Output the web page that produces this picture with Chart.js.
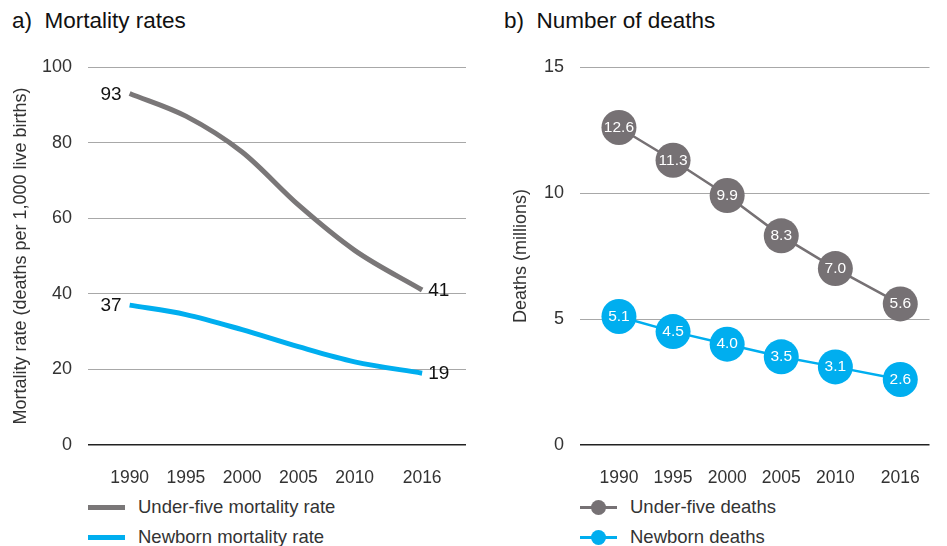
<!DOCTYPE html>
<html>
<head>
<meta charset="utf-8">
<script src="https://cdn.jsdelivr.net/npm/chart.js@4.4.1/dist/chart.umd.min.js"></script>
<style>
  body { margin: 0; background: #fff; font-family: "Liberation Sans", Arial, sans-serif; }
  #wrap { position: relative; width: 947px; height: 546px; overflow: hidden; }
  .title { position: absolute; top: 8px; font-size: 22.5px; color: #111; white-space: pre; }
  .box { position: absolute; top: 0; height: 490px; }
  .legend { position: absolute; font-size: 18.5px; color: #333; }
  .legend div { position: relative; height: 30px; line-height: 30px; padding-left: 50px; }
  .legend .swatch { position: absolute; left: 0; top: 13px; width: 37px; height: 5px; }
  .legend .thin { top: 14px; height: 3px; }
  .legend .dot { position: absolute; left: 11px; top: 8px; width: 15px; height: 15px; border-radius: 50%; }
</style>
</head>
<body>
<div id="wrap">
  <div class="title" style="left:12px">a)  Mortality rates</div>
  <div class="title" style="left:504px">b)  Number of deaths</div>
  <div class="box" style="left:0;width:475px"><canvas id="rates"></canvas></div>
  <div class="box" style="left:490px;width:457px"><canvas id="deaths"></canvas></div>
  <div class="legend" style="left:88px;top:492px">
    <div><span class="swatch" style="background:#7a7778"></span>Under-five mortality rate</div>
    <div><span class="swatch" style="background:#00aeef"></span>Newborn mortality rate</div>
  </div>
  <div class="legend" style="left:580px;top:492px">
    <div><span class="swatch thin" style="background:#767174"></span><span class="dot" style="background:#767174"></span>Under-five deaths</div>
    <div><span class="swatch thin" style="background:#00aeef"></span><span class="dot" style="background:#00aeef"></span>Newborn deaths</div>
  </div>
</div>
<script>
const years = [1990, 1995, 2000, 2005, 2010, 2016];
const underFiveRate = [93, 87, 77.5, 63.5, 51.5, 41];
const newbornRate = [37, 34.5, 30.5, 26, 22, 19];
const underFiveDeaths = [12.6, 11.3, 9.9, 8.3, 7.0, 5.6];
const newbornDeaths = [5.1, 4.5, 4.0, 3.5, 3.1, 2.6];

const GRAY = '#7a7778', DOT_GRAY = '#767174', BLUE = '#00aeef';
const FONT = '"Liberation Sans", Arial, sans-serif';

function pts(vals) {
  return vals.map((v, i) => ({ x: years[i], y: v }));
}

// draws the value labels
const labelPlugin = {
  id: 'valueLabels',
  afterDatasetsDraw(chart, args, opts) {
    const ctx = chart.ctx;
    ctx.save();
    chart.data.datasets.forEach((ds, di) => {
      const meta = chart.getDatasetMeta(di);
      meta.data.forEach((p, i) => {
        const v = ds.data[i].y;
        if (opts.mode === 'ends') {
          if (i !== 0 && i !== meta.data.length - 1) return;
          ctx.font = '19px ' + FONT;
          ctx.fillStyle = '#111';
          ctx.textBaseline = 'middle';
          if (i === 0) { ctx.textAlign = 'right'; ctx.fillText(v, p.x - 8, p.y + 1); }
          else { ctx.textAlign = 'left'; ctx.fillText(v, p.x + 6, p.y + 1); }
        } else {
          ctx.font = '15.5px ' + FONT;
          ctx.fillStyle = '#fff';
          ctx.textAlign = 'center';
          ctx.textBaseline = 'middle';
          ctx.fillText(v.toFixed(1), p.x, p.y);
        }
      });
    });
    ctx.restore();
  }
};

function baseOptions(xMin, xMax, yMax, yStep, yTitle, yWidth, titlePad, padRight, mode) {
  return {
    responsive: true,
    maintainAspectRatio: false,
    animation: false,
    layout: { padding: { top: 67, right: padRight, left: 0, bottom: 0 } },
    plugins: {
      legend: { display: false },
      tooltip: { enabled: false },
      valueLabels: { mode: mode }
    },
    scales: {
      x: {
        type: 'linear',
        min: xMin,
        max: xMax,
        afterBuildTicks: (s) => { s.ticks = years.map(v => ({ value: v })); },
        afterFit: (s) => { s.height = 45; },
        grid: { display: false },
        border: { display: false },
        ticks: { padding: 15, color: '#333', font: { family: FONT, size: 17.5 }, callback: v => String(v), maxRotation: 0, autoSkip: false }
      },
      y: {
        min: 0,
        max: yMax,
        afterFit: (s) => { s.width = yWidth; },
        border: { display: false },
        grid: {
          drawTicks: false,
          color: c => c.tick.value === 0 ? '#222' : '#a8a8a8',
          lineWidth: c => c.tick.value === 0 ? 1.5 : 1
        },
        ticks: { stepSize: yStep, padding: 16, color: '#333', font: { family: FONT, size: 18 } },
        title: { display: true, text: yTitle, color: '#333', font: { family: FONT, size: 18 }, padding: { top: titlePad, bottom: 0 } }
      }
    }
  };
}

new Chart(document.getElementById('rates'), {
  type: 'line',
  data: {
    datasets: [
      { label: 'Under-five mortality rate', data: pts(underFiveRate), borderColor: GRAY, borderWidth: 5, pointRadius: 0, tension: 0.3, cubicInterpolationMode: 'monotone' },
      { label: 'Newborn mortality rate', data: pts(newbornRate), borderColor: BLUE, borderWidth: 5, pointRadius: 0, tension: 0.3, cubicInterpolationMode: 'monotone' }
    ]
  },
  options: baseOptions(1986.3, 2019.9, 100, 20, 'Mortality rate (deaths per 1,000 live births)', 88, 10, 9, 'ends'),
  plugins: [labelPlugin]
});

new Chart(document.getElementById('deaths'), {
  type: 'line',
  data: {
    datasets: [
      { label: 'Under-five deaths', data: pts(underFiveDeaths), borderColor: DOT_GRAY, borderWidth: 2.5, pointRadius: 17.5, pointBackgroundColor: DOT_GRAY, pointBorderWidth: 0, tension: 0 },
      { label: 'Newborn deaths', data: pts(newbornDeaths), borderColor: BLUE, borderWidth: 2.5, pointRadius: 17.5, pointBackgroundColor: BLUE, pointBorderWidth: 0, tension: 0 }
    ]
  },
  options: baseOptions(1986.4, 2018.7, 15, 5, 'Deaths (millions)', 90, 20, 0, 'inside'),
  plugins: [labelPlugin]
});
</script>
</body>
</html>
